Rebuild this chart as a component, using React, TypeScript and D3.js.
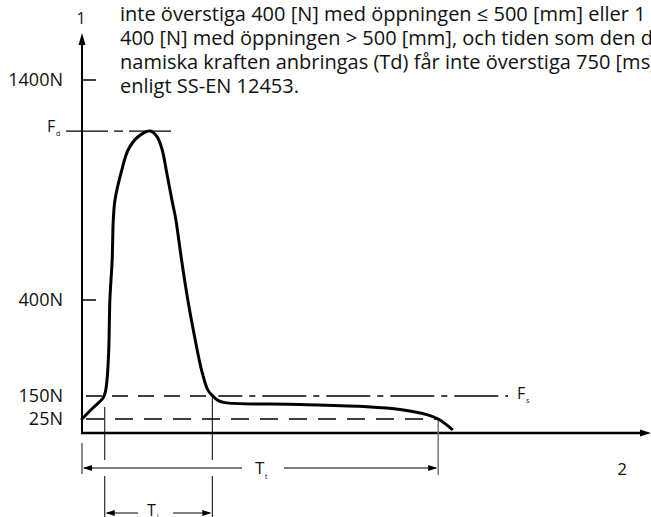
import React from 'react';
import * as d3 from 'd3';

// Schematic force-time curve (force in N, time in arbitrary ms)
const timeMs = [0, 19, 37, 41, 44, 47, 49, 53, 55, 58, 70, 81, 98, 120, 132, 141, 148, 158, 165, 175, 186, 199, 210, 221, 230, 239, 251, 383, 501, 559, 606, 626, 650];
const forceN = [25, 85, 139, 160, 192, 270, 400, 582, 764, 855, 991, 1082, 1141, 1168, 1141, 1082, 991, 855, 764, 582, 400, 296, 218, 166, 150, 126, 114, 104, 92, 77, 49, 25, 7];

const forceTicks = [25, 150, 400, 1400];
const forceTickLabels = ['25N', '150N', '400N', '1400N'];
const forceBreaks = [0, 25, 150, 400, 1400];

const FdValue = 1168;
const FsValue = 150;
const FminValue = 25;
const tiStart = 40;
const tiEnd = 229;
const ttEnd = 626;

const textLines = [
  'inte överstiga 400 [N] med öppningen ≤ 500 [mm] eller 1',
  '400 [N] med öppningen > 500 [mm], och tiden som den dy-',
  'namiska kraften anbringas (Td) får inte överstiga 750 [ms]',
  'enligt SS-EN 12453.',
];

const W = 651;
const H = 517;
const FONT = "'Open Sans', 'Noto Sans', sans-serif";

export default function App() {
  const x = d3.scaleLinear().domain([0, 1000]).range([82, 651]);
  const y = d3.scaleLinear().domain(forceBreaks).range([433, 419, 396, 300, 80]);

  const pts: [number, number][] = timeMs.map((t, i) => [t, forceN[i]]);
  const line = d3
    .line<[number, number]>()
    .x((d) => x(d[0]))
    .y((d) => y(d[1]))
    .curve(d3.curveCatmullRom.alpha(0.5));

  const x0 = x(0);
  const y0 = y(0);
  const yFd = y(FdValue);
  const yFs = y(FsValue);
  const yMin = y(FminValue);
  const xTi0 = x(tiStart);
  const xTi1 = x(tiEnd);
  const xTt = x(ttEnd);
  const yTt = 468;
  const yTi = 513;

  const arrowR = (ax: number, ay: number, len = 9, hw = 3) =>
    `M${ax},${ay}L${ax - len},${ay - hw}L${ax - len},${ay + hw}Z`;
  const arrowL = (ax: number, ay: number, len = 9, hw = 3) =>
    `M${ax},${ay}L${ax + len},${ay - hw}L${ax + len},${ay + hw}Z`;

  return (
    <svg
      width={W}
      height={H}
      style={{ position: 'absolute', left: 0, top: 0, background: '#fff' }}
      fontFamily={FONT}
    >
      <rect x={0} y={0} width={W} height={H} fill="#fff" />
      {/* description text */}
      {textLines.map((t, i) => (
        <text key={i} x={120} y={21 + i * 24} fontSize={20} fill="#111">
          {t}
        </text>
      ))}

      {/* axis labels */}
      <text x={81} y={24} fontSize={16} textAnchor="middle" fill="#111">1</text>
      <text x={622} y={475} fontSize={17} textAnchor="middle" fill="#111">2</text>

      {/* y axis */}
      <line x1={x0} y1={y0 + 1} x2={x0} y2={42} stroke="#000" strokeWidth={2} />
      <path d={`M${x0},33L${x0 - 3.5},45L${x0 + 3.5},45Z`} fill="#000" />
      {/* x axis */}
      <line x1={x0 - 1} y1={y0} x2={W - 8} y2={y0} stroke="#000" strokeWidth={2.5} />
      <path d={arrowR(W, y0, 11, 3.5)} fill="#000" />

      {/* ticks */}
      {forceTicks.map((v, i) => (
        <g key={v}>
          {(v === 400 || v === 1400) && (
            <line x1={x0} x2={x0 + 14} y1={y(v)} y2={y(v)} stroke="#000" strokeWidth={1.5} />
          )}
          <text x={63} y={y(v) + 6} fontSize={18} textAnchor="end" fill="#111">
            {forceTickLabels[i]}
          </text>
        </g>
      ))}

      {/* Fd dash-dot line */}
      <line x1={66} x2={172} y1={yFd} y2={yFd} stroke="#000" strokeWidth={1.3} strokeDasharray="42 6 9 6" />
      <text x={47} y={yFd + 1} fontSize={16} fill="#111">F</text>
      <text x={56} y={yFd + 5} fontSize={7} fill="#111">d</text>

      {/* Fs line: dashed then dash-dot */}
      <line x1={x0} x2={xTi1} y1={yFs} y2={yFs} stroke="#000" strokeWidth={1.3} strokeDasharray="16 10" strokeDashoffset={-4} />
      <line x1={xTi1 + 6} x2={508} y1={yFs} y2={yFs} stroke="#000" strokeWidth={1.3} strokeDasharray="44 7 6 7" strokeDashoffset={20} />
      <text x={517} y={yFs + 3} fontSize={16} fill="#111">F</text>
      <text x={526} y={yFs + 7} fontSize={7} fill="#111">s</text>

      {/* 25N dashed line */}
      <line x1={x0} x2={xTt} y1={yMin} y2={yMin} stroke="#000" strokeWidth={1.3} strokeDasharray="18 11" strokeDashoffset={-4} />

      {/* extension lines */}
      <line x1={xTi0} x2={xTi0} y1={407} y2={460} stroke="#000" strokeWidth={1} />
      <line x1={xTi0} x2={xTi0} y1={476} y2={H} stroke="#000" strokeWidth={1} />
      <line x1={xTi1} x2={xTi1} y1={yFs} y2={460} stroke="#000" strokeWidth={1} />
      <line x1={xTi1} x2={xTi1} y1={476} y2={H} stroke="#000" strokeWidth={1} />
      <line x1={x0} x2={x0} y1={443} y2={474} stroke="#666" strokeWidth={1.5} />
      <line x1={xTt} x2={xTt} y1={yMin} y2={475} stroke="#777" strokeWidth={1.5} />

      {/* Tt dimension */}
      <line x1={x0 + 2} x2={242} y1={yTt} y2={yTt} stroke="#000" strokeWidth={1} />
      <line x1={284} x2={xTt - 2} y1={yTt} y2={yTt} stroke="#000" strokeWidth={1} />
      <path d={arrowL(x0 + 1, yTt)} fill="#000" />
      <path d={arrowR(xTt - 1, yTt)} fill="#000" />
      <text x={255} y={474} fontSize={17} fill="#111">T</text>
      <text x={265} y={479} fontSize={7} fill="#111">t</text>

      {/* Ti dimension */}
      <line x1={xTi0 + 2} x2={138} y1={yTi} y2={yTi} stroke="#000" strokeWidth={1} />
      <line x1={173} x2={xTi1 - 2} y1={yTi} y2={yTi} stroke="#000" strokeWidth={1} />
      <path d={arrowL(xTi0 + 1, yTi)} fill="#000" />
      <path d={arrowR(xTi1 - 1, yTi)} fill="#000" />
      <text x={147} y={516} fontSize={16} fill="#111">T</text>
      <text x={157} y={517} fontSize={6} fill="#111">i</text>

      {/* force curve */}
      <path d={line(pts) || ''} fill="none" stroke="#000" strokeWidth={3} strokeLinecap="round" strokeLinejoin="round" />
    </svg>
  );
}
